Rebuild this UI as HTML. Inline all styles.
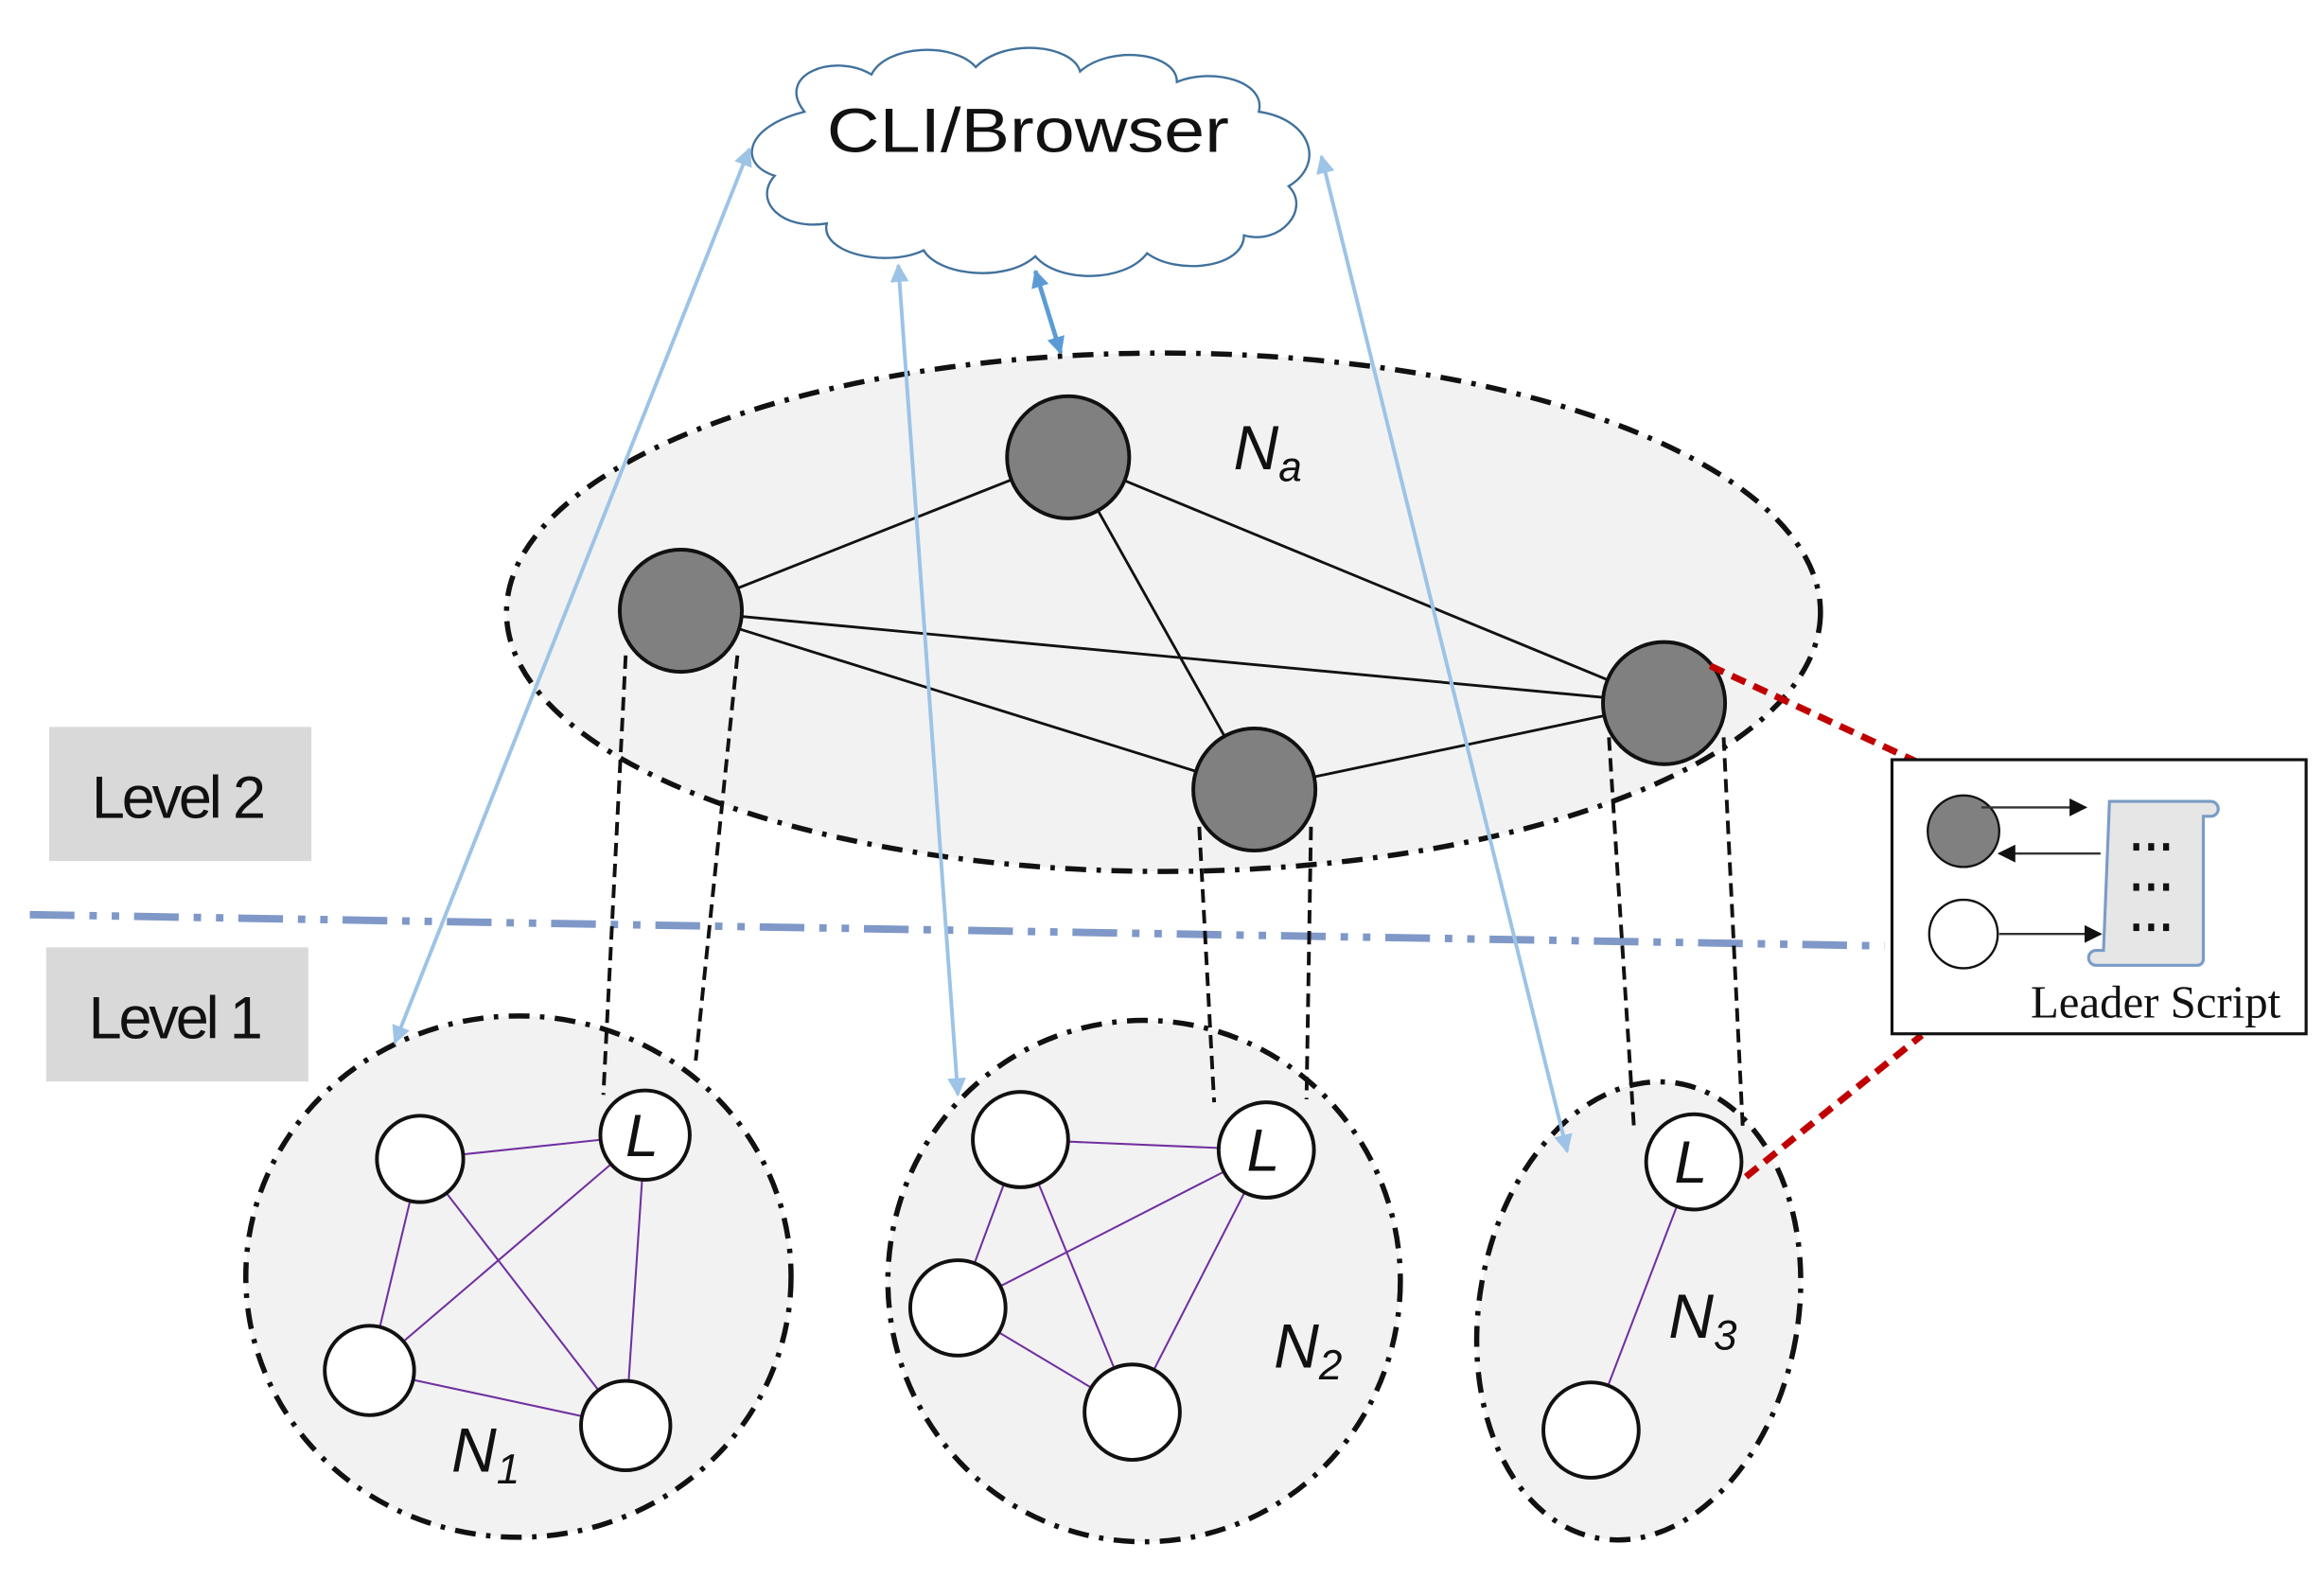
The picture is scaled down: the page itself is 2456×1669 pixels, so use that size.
<!DOCTYPE html>
<html><head><meta charset="utf-8"><style>html,body{margin:0;padding:0;background:#fff}svg{display:block}</style></head>
<body>
<svg width="2456" height="1669" viewBox="0 0 1560 1060" preserveAspectRatio="none" xmlns="http://www.w3.org/2000/svg">
<defs>
<marker id="ab" viewBox="0 0 10 10" refX="9" refY="5" markerWidth="5" markerHeight="5" orient="auto-start-reverse"><path d="M0,0L10,5L0,10z" fill="#9dc3e6"/></marker>
<marker id="ad" viewBox="0 0 10 10" refX="9" refY="5" markerWidth="4" markerHeight="4" orient="auto-start-reverse"><path d="M0,0L10,5L0,10z" fill="#5b9bd5"/></marker>
<marker id="ak" viewBox="0 0 10 10" refX="9" refY="5" markerWidth="8" markerHeight="8" orient="auto"><path d="M0,0L10,5L0,10z" fill="#111"/></marker>
</defs>
<g fill="#fff" stroke="#41719c" stroke-width="1.5">
<path d="M540,75 C520,50 560,35 585,50 C595,30 640,28 655,45 C675,25 720,30 725,48 C745,30 790,35 790,55 C815,45 850,55 845,75 C880,80 890,110 865,125 C880,140 860,165 835,158 C835,180 790,185 770,170 C755,190 710,190 695,172 C675,190 630,185 620,168 C595,180 550,170 555,150 C525,155 505,135 520,118 C495,110 500,85 540,75 Z"/>
</g>
<text x="690" y="102" font-family="Liberation Sans, sans-serif" font-size="42" text-anchor="middle" fill="#111" textLength="270" lengthAdjust="spacingAndGlyphs">CLI/Browser</text>
<line x1="695" y1="182" x2="712" y2="237" stroke="#5b9bd5" stroke-width="3" marker-start="url(#ad)" marker-end="url(#ad)"/>
<ellipse cx="781" cy="411" rx="441" ry="174" fill="#f2f2f2" stroke="#111" stroke-width="3.5" stroke-dasharray="14,7,3,7"/>
<g stroke="#111" stroke-width="1.8">
<line x1="717" y1="307" x2="457" y2="410"/><line x1="717" y1="307" x2="1117" y2="472"/><line x1="717" y1="307" x2="842" y2="530"/>
<line x1="457" y1="410" x2="1117" y2="472"/><line x1="457" y1="410" x2="842" y2="530"/><line x1="842" y1="530" x2="1117" y2="472"/>
</g>
<g fill="#808080" stroke="#111" stroke-width="2.5">
<circle cx="717" cy="307" r="41"/><circle cx="457" cy="410" r="41"/><circle cx="1117" cy="472" r="41"/><circle cx="842" cy="530" r="41"/>
</g>
<text x="828" y="315" font-family="Liberation Sans, sans-serif" font-style="italic" font-size="42" fill="#111">N<tspan font-size="28" dy="8">a</tspan></text>
<rect x="33" y="488" width="176" height="90" fill="#d9d9d9"/>
<text x="119" y="549" font-family="Liberation Sans, sans-serif" font-size="40" text-anchor="middle" fill="#111" letter-spacing="-2">Level 2</text>
<rect x="31" y="636" width="176" height="90" fill="#d9d9d9"/>
<text x="117" y="697" font-family="Liberation Sans, sans-serif" font-size="40" text-anchor="middle" fill="#111" letter-spacing="-2">Level 1</text>
<line x1="20" y1="614" x2="1265" y2="635" stroke="#7f98c8" stroke-width="5" stroke-dasharray="30,10,5,10,5,10"/>
<g fill="#f2f2f2" stroke="#111" stroke-width="3.5" stroke-dasharray="14,7,3,7">
<ellipse cx="348" cy="857" rx="183" ry="175"/>
<ellipse cx="768" cy="860" rx="172" ry="175"/>
<ellipse cx="1100" cy="880" rx="107" ry="155" transform="rotate(10 1100 880)"/>
</g>
<g stroke="#7030a0" stroke-width="1.3">
<line x1="282" y1="778" x2="433" y2="762"/><line x1="282" y1="778" x2="248" y2="920"/><line x1="282" y1="778" x2="420" y2="957"/>
<line x1="248" y1="920" x2="433" y2="762"/><line x1="248" y1="920" x2="420" y2="957"/><line x1="433" y1="762" x2="420" y2="957"/>
<line x1="685" y1="765" x2="850" y2="772"/><line x1="685" y1="765" x2="643" y2="878"/><line x1="685" y1="765" x2="760" y2="948"/>
<line x1="643" y1="878" x2="850" y2="772"/><line x1="643" y1="878" x2="760" y2="948"/><line x1="850" y1="772" x2="760" y2="948"/>
<line x1="1137" y1="780" x2="1068" y2="960"/>
</g>
<g fill="#fff" stroke="#111" stroke-width="2.5">
<circle cx="282" cy="778" r="29"/><circle cx="248" cy="920" r="30"/><circle cx="420" cy="957" r="30"/><circle cx="433" cy="762" r="30"/>
<circle cx="685" cy="765" r="32"/><circle cx="643" cy="878" r="32"/><circle cx="760" cy="948" r="32"/><circle cx="850" cy="772" r="32"/>
<circle cx="1137" cy="780" r="32"/><circle cx="1068" cy="960" r="32"/>
</g>
<g font-family="Liberation Sans, sans-serif" font-style="italic" font-size="40" fill="#111" text-anchor="middle">
<text x="431" y="776">L</text><text x="848" y="786">L</text><text x="1135" y="794">L</text>
</g>
<g font-family="Liberation Sans, sans-serif" font-style="italic" font-size="42" fill="#111">
<text x="303" y="988">N<tspan font-size="28" dy="8">1</tspan></text>
<text x="855" y="918">N<tspan font-size="28" dy="8">2</tspan></text>
<text x="1120" y="898">N<tspan font-size="28" dy="8">3</tspan></text>
</g>
<g stroke="#111" stroke-width="2.5" stroke-dasharray="9,5">
<line x1="420" y1="440" x2="405" y2="735"/><line x1="495" y1="440" x2="467" y2="712"/>
<line x1="805" y1="555" x2="815" y2="740"/><line x1="880" y1="555" x2="877" y2="738"/>
<line x1="1080" y1="495" x2="1097" y2="760"/><line x1="1157" y1="495" x2="1170" y2="760"/>
</g>
<g stroke="#9dc3e6" stroke-width="2.5" fill="none">
<line x1="503" y1="100" x2="265" y2="700" marker-start="url(#ab)" marker-end="url(#ab)"/>
<line x1="603" y1="178" x2="643" y2="735" marker-start="url(#ab)" marker-end="url(#ab)"/>
<line x1="887" y1="105" x2="1052" y2="773" marker-start="url(#ab)" marker-end="url(#ab)"/>
</g>
<g stroke="#c00000" stroke-width="4.5" stroke-dasharray="10,6">
<line x1="1148" y1="447" x2="1288" y2="512"/><line x1="1172" y1="790" x2="1290" y2="695"/>
</g>
<rect x="1270" y="510" width="278" height="184" fill="#fff" stroke="#111" stroke-width="2"/>
<circle cx="1318" cy="558" r="24" fill="#808080" stroke="#111" stroke-width="1.5"/>
<circle cx="1318" cy="627" r="23" fill="#fff" stroke="#111" stroke-width="1.5"/>
<g stroke="#333" stroke-width="1.5">
<line x1="1330" y1="542" x2="1400" y2="542" marker-end="url(#ak)"/>
<line x1="1410" y1="573" x2="1342" y2="573" marker-end="url(#ak)"/>
<line x1="1342" y1="627" x2="1410" y2="627" marker-end="url(#ak)"/>
</g>
<path d="M1416,538 h68 a5,5 0 0 1 0,10 h-5 v96 a4,4 0 0 1 -4,4 h-68 a5,5 0 0 1 0,-10 h5 z" fill="#e6e6e6" stroke="#7a9cc6" stroke-width="2"/>
<g fill="#111">
<rect x="1432" y="566" width="4" height="5"/><rect x="1442" y="566" width="4" height="5"/><rect x="1452" y="566" width="4" height="5"/>
<rect x="1432" y="593" width="4" height="5"/><rect x="1442" y="593" width="4" height="5"/><rect x="1452" y="593" width="4" height="5"/>
<rect x="1432" y="620" width="4" height="5"/><rect x="1442" y="620" width="4" height="5"/><rect x="1452" y="620" width="4" height="5"/>
</g>
<text x="1447" y="683" font-family="Liberation Serif, serif" font-size="31" text-anchor="middle" fill="#111">Leader Script</text>
</svg>
</body></html>
